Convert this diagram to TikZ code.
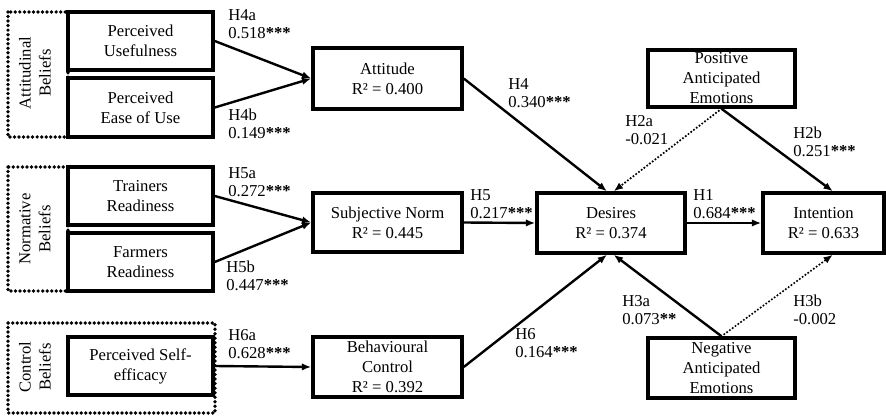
\documentclass[tikz,border=0pt]{standalone}
\usepackage{fontspec}
\setmainfont{Liberation Serif}
\usetikzlibrary{arrows.meta,calc}
\newcommand{\stars}[1]{\textbf{#1}}
\begin{document}
\begin{tikzpicture}[x=0.75pt,y=-0.75pt,
 box/.style={draw, line width=2.6pt, align=center, inner sep=1pt, font=\fontsize{12.5}{15}\selectfont},
 lbl/.style={align=left, anchor=west, inner sep=0pt, font=\fontsize{12.5}{13.8}\selectfont},
 grplbl/.style={align=center, rotate=90, inner sep=0pt, font=\fontsize{12.5}{15}\selectfont},
 arr/.style={line width=1.8pt, -{Latex[length=7pt,width=5.5pt]}},
 dotarr/.style={line width=1.8pt, dash pattern=on 0pt off 2.6pt, line cap=round, -{Latex[length=7pt,width=5.5pt]}},
 grp/.style={line width=2.8pt, dash pattern=on 0pt off 3.4pt, line cap=round}]
\useasboundingbox (0,0) rectangle (886,417);
% group frames
\draw[grp] (8,12) rectangle (68,137);
\draw[grp] (8,167) rectangle (68,291);
\draw[grp] (8,323) rectangle (215,413);
\node[grplbl] (gatt) at (35,73) {Attitudinal\\Beliefs};
\node[grplbl] (gnorm) at (35,229) {Normative\\Beliefs};
\node[grplbl] (gctrl) at (35,367) {Control\\Beliefs};
% boxes
\node[box, minimum width=108.75pt, minimum height=43.5pt] (pu) at (140.5,41) {Perceived\\Usefulness};
\node[box, minimum width=108.75pt, minimum height=44.25pt] (peu) at (140.5,107.5) {Perceived\\Ease of Use};
\node[box, minimum width=108.75pt, minimum height=43.5pt] (tr) at (140.5,196) {Trainers\\Readiness};
\node[box, minimum width=108.75pt, minimum height=43.5pt] (fr) at (140.5,262) {Farmers\\Readiness};
\node[box, minimum width=108.75pt, minimum height=43.5pt] (pse) at (140.5,366) {Perceived Self-\\efficacy};
\node[box, minimum width=111.75pt, minimum height=45.75pt] (att) at (387.5,78.5) {Attitude\\R² = 0.400};
\node[box, minimum width=111.75pt, minimum height=44.25pt] (sn) at (387.5,222.5) {Subjective Norm\\R² = 0.445};
\node[box, minimum width=111.75pt, minimum height=45pt] (bc) at (387.5,367) {Behavioural\\Control\\R² = 0.392};
\node[box, minimum width=111pt, minimum height=45pt] (des) at (611,223) {Desires\\R² = 0.374};
\node[box, minimum width=90.75pt, minimum height=45pt] (int) at (823.5,223) {Intention\\R² = 0.633};
\node[box, minimum width=110.25pt, minimum height=42.75pt] (pae) at (721.5,78.5) {Positive\\Anticipated\\Emotions};
\node[box, minimum width=110.25pt, minimum height=45pt] (nae) at (721.5,368) {Negative\\Anticipated\\Emotions};
% connectors
\draw[arr] (pu.east) -- (att.west);
\draw[arr] (peu.east) -- (att.west);
\draw[arr] (tr.east) -- (sn.west);
\draw[arr] (fr.east) -- (sn.west);
\draw[arr] (pse.east) -- (bc.west);
\draw[arr] (att.east) -- ([xshift=-3pt]des.north);
\draw[arr] (sn.east) -- (des.west);
\draw[arr] (bc.east) -- ([xshift=-3pt]des.south);
\draw[arr] (des.east) -- (int.west);
\draw[dotarr] (pae.south) -- ([xshift=2pt]des.north);
\draw[arr] (pae.south) -- ([xshift=7pt]int.north);
\draw[arr] (nae.north) -- ([xshift=2pt]des.south);
\draw[dotarr] (nae.north) -- ([xshift=7pt]int.south);
% labels
\node[lbl] (l4a) at (228,24) {H4a\\0.518\stars{***}};
\node[lbl] (l4b) at (228,124) {H4b\\0.149\stars{***}};
\node[lbl] (l5a) at (228,182) {H5a\\0.272\stars{***}};
\node[lbl] (l5b) at (226,276) {H5b\\0.447\stars{***}};
\node[lbl] (l6a) at (228,344) {H6a\\0.628\stars{***}};
\node[lbl] (l4) at (508,93) {H4\\0.340\stars{***}};
\node[lbl] (l2a) at (625,130) {H2a\\-0.021};
\node[lbl] (l2b) at (793,142) {H2b\\0.251\stars{***}};
\node[lbl] (l5) at (470,204) {H5\\0.217\stars{***}};
\node[lbl] (l1) at (693,204) {H1\\0.684\stars{***}};
\node[lbl] (l3a) at (622,310) {H3a\\0.073\stars{**}};
\node[lbl] (l3b) at (793,310) {H3b\\-0.002};
\node[lbl] (l6) at (515,343) {H6\\0.164\stars{***}};
\end{tikzpicture}
\end{document}
